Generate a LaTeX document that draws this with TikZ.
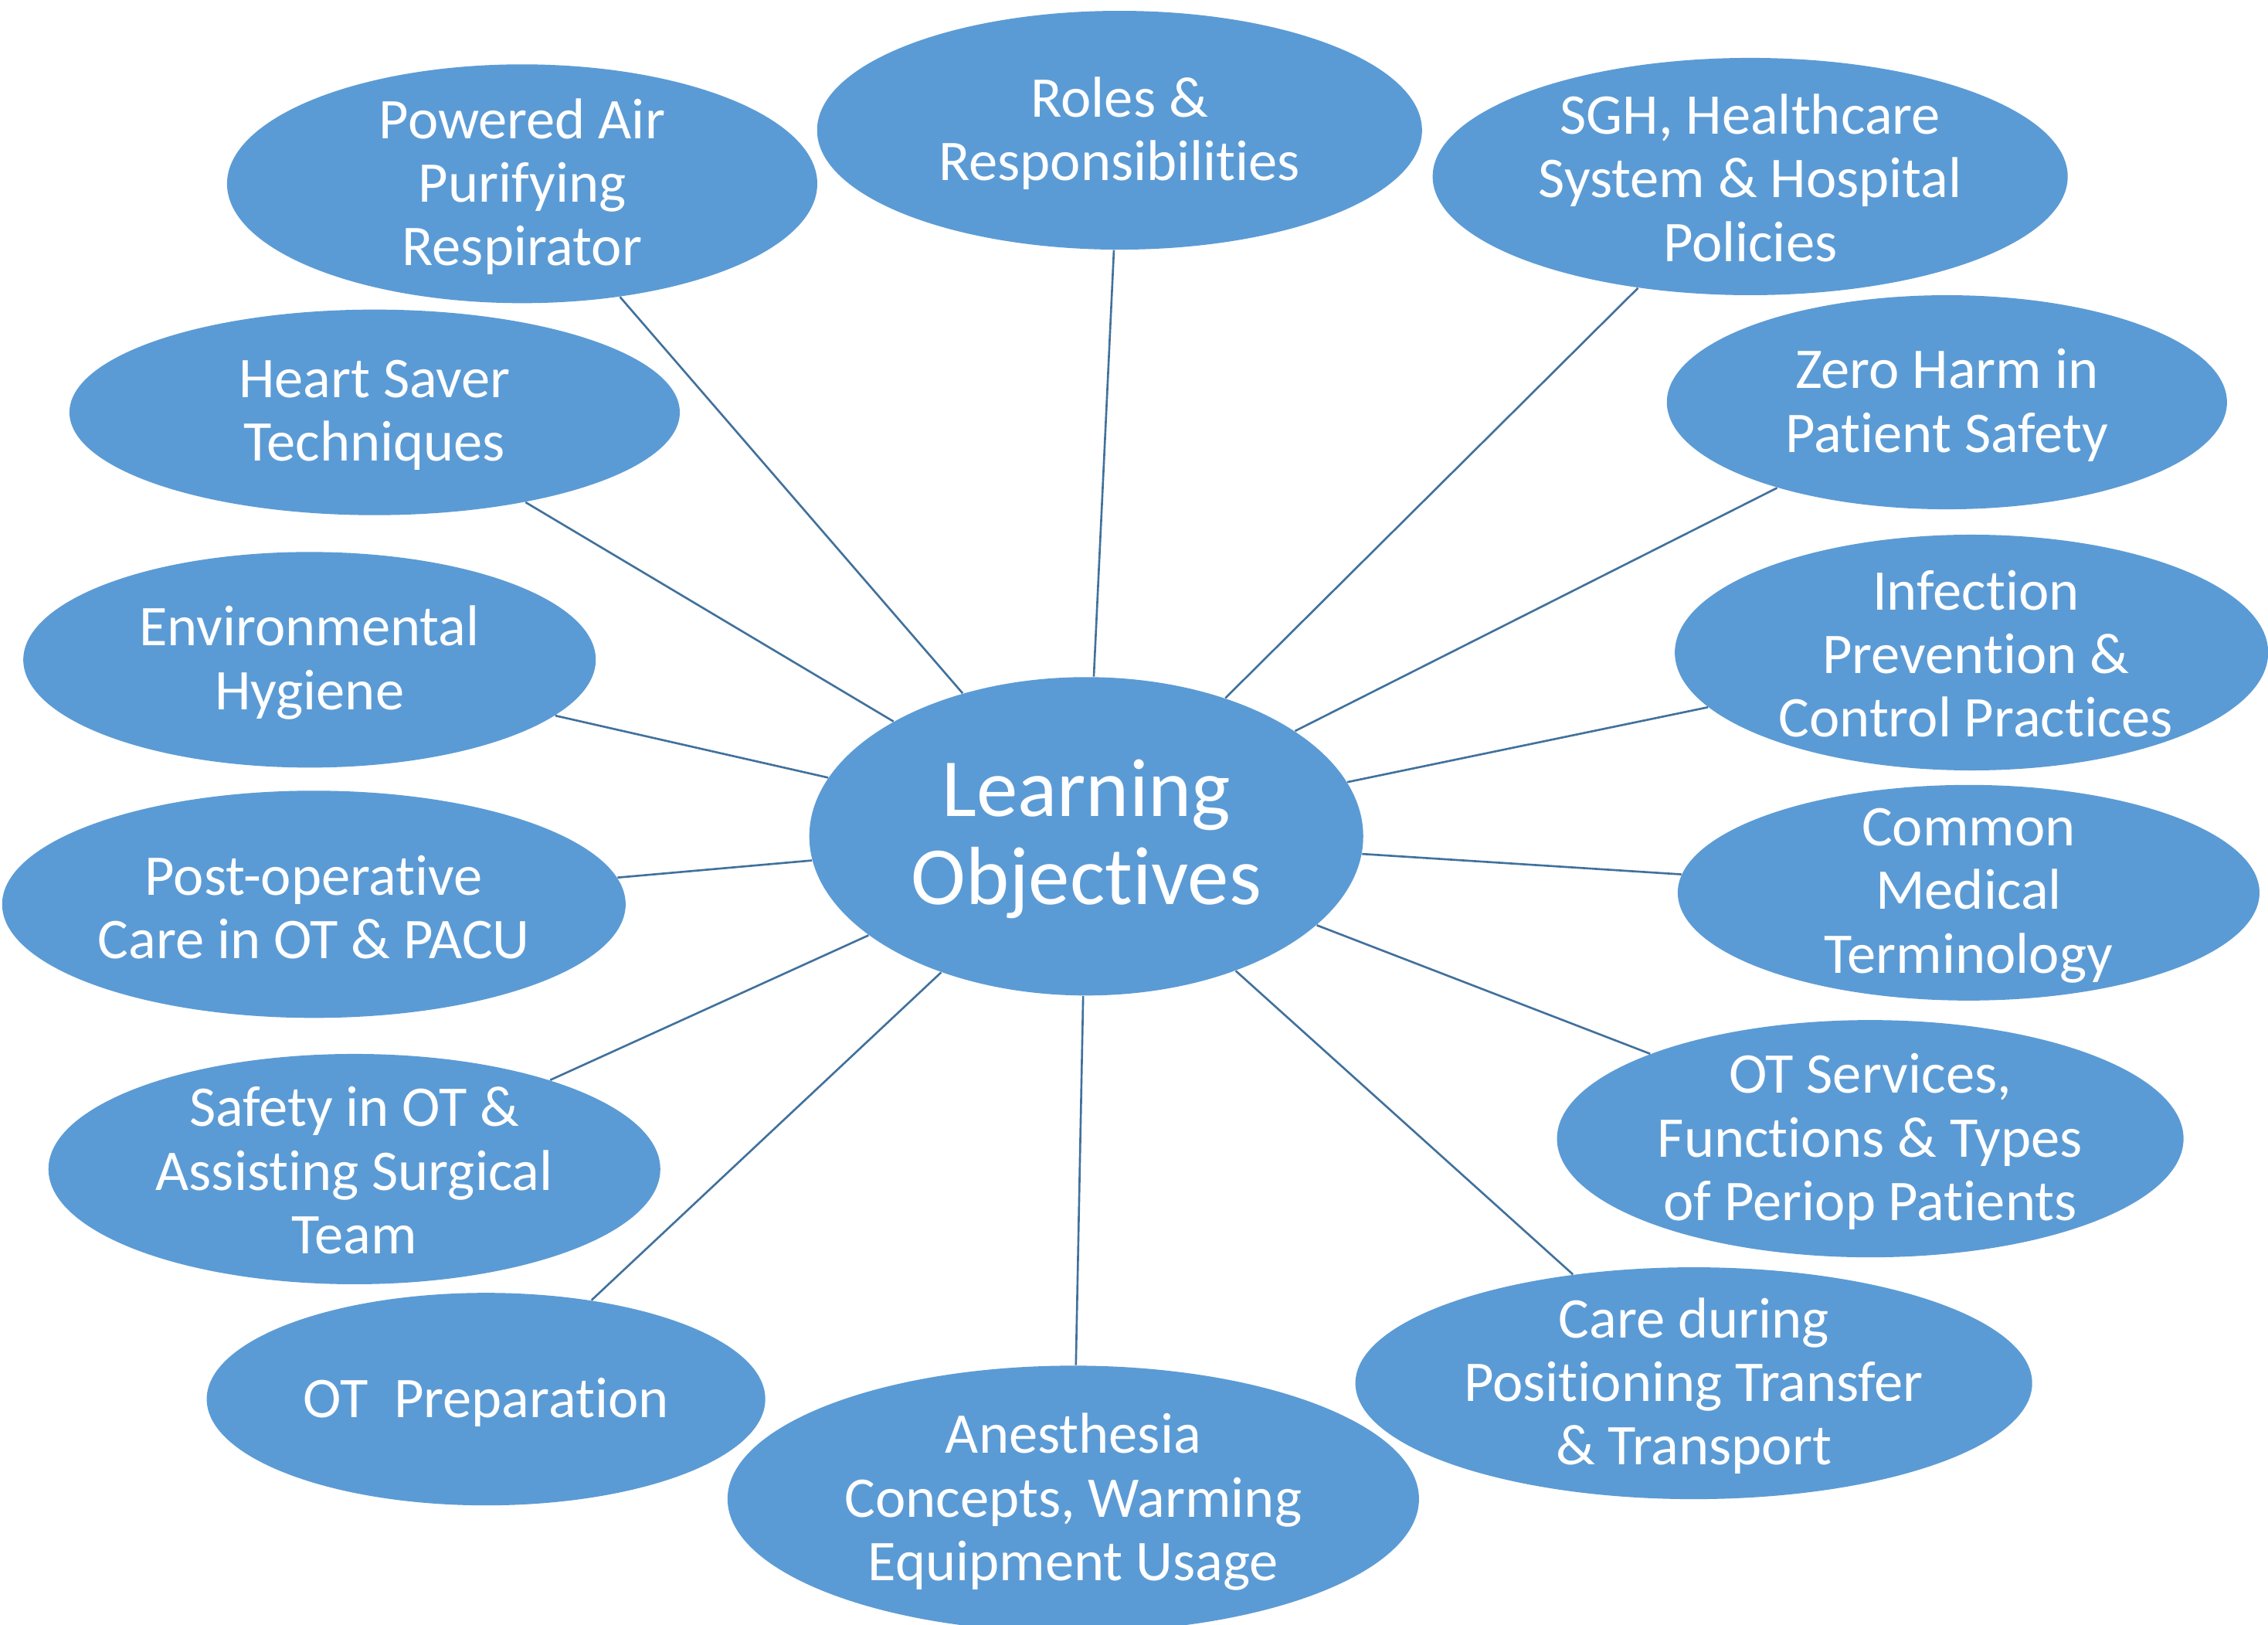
\documentclass[tikz,border=0pt]{standalone}
\usepackage{fontspec}
\setmainfont{Carlito}[Ligatures=NoCommon]
\usetikzlibrary{shapes.geometric}
\definecolor{topicblue}{HTML}{5B9BD5}
\definecolor{linkblue}{HTML}{41719C}
\begin{document}
\begin{tikzpicture}[
    x=0.018724cm, y=-0.018724cm,
    topic/.style={ellipse, fill=topicblue, inner sep=0pt},
    topic_text/.style={text=white, align=center, font=\fontsize{21.2}{23.4}\selectfont},
    hub_text/.style={text=white, align=center, font=\fontsize{30.4}{32.5}\selectfont},
    link/.style={draw=linkblue, line width=0.75pt} % connectors from the hub
]
\useasboundingbox (0,0) rectangle (1568,1123);

\node[topic, minimum width=7.17cm, minimum height=4.12cm] (hub) at (751,578) {};
\node[hub_text] (hub_t) at (751,580) {Learning\\Objectives};

\node[topic, minimum width=7.83cm, minimum height=3.09cm] (roles) at (774,90) {};
\node[topic_text] (roles_t) at (774,92) {Roles \&\\Responsibilities};
\node[topic, minimum width=7.64cm, minimum height=3.09cm] (papr) at (361,127) {};
\node[topic_text] (papr_t) at (361,129) {Powered Air\\Purifying\\Respirator};
\node[topic, minimum width=8.22cm, minimum height=3.07cm] (sgh) at (1210,122) {};
\node[topic_text] (sgh_t) at (1210,123) {SGH, Healthcare\\System \& Hospital\\Policies};
\node[topic, minimum width=7.90cm, minimum height=2.66cm] (heart) at (259,285) {};
\node[topic_text] (heart_t) at (259,287) {Heart Saver\\Techniques};
\node[topic, minimum width=7.25cm, minimum height=2.77cm] (harm) at (1346,278) {};
\node[topic_text] (harm_t) at (1346,280) {Zero Harm in\\Patient Safety};
\node[topic, minimum width=7.41cm, minimum height=2.79cm] (hygiene) at (214,456) {};
\node[topic_text] (hygiene_t) at (214,458) {Environmental\\Hygiene};
\node[topic, minimum width=7.68cm, minimum height=3.05cm] (ipc) at (1363,451) {};
\node[topic_text] (ipc_t) at (1366,452) {Infection\\Prevention \&\\Control Practices};
\node[topic, minimum width=8.07cm, minimum height=2.94cm] (postop) at (217,625) {};
\node[topic_text] (postop_t) at (217,627) {Post-operative\\Care in OT \& PACU};
\node[topic, minimum width=7.53cm, minimum height=2.79cm] (terms) at (1361,617) {};
\node[topic_text] (terms_t) at (1361,619) {Common\\Medical\\Terminology};
\node[topic, minimum width=7.92cm, minimum height=2.98cm] (safety) at (245,808) {};
\node[topic_text] (safety_t) at (245,809) {Safety in OT \&\\Assisting Surgical\\Team};
\node[topic, minimum width=8.11cm, minimum height=3.07cm] (services) at (1293,787) {};
\node[topic_text] (services_t) at (1293,789) {OT Services,\\Functions \& Types\\of Periop Patients};
\node[topic, minimum width=7.23cm, minimum height=2.75cm] (prep) at (336,967) {};
\node[topic_text] (prep_t) at (336,969) {OT\ \ Preparation};
\node[topic, minimum width=8.95cm, minimum height=3.45cm] (anaes) at (742,1036) {};
\node[topic_text] (anaes_t) at (742,1038) {Anesthesia\\Concepts, Warming\\Equipment Usage};
\node[topic, minimum width=8.76cm, minimum height=3.00cm] (care) at (1171,956) {};
\node[topic_text] (care_t) at (1171,958) {Care during\\Positioning Transfer\\\& Transport};

\foreach \t in {roles,papr,sgh,heart,harm,hygiene,ipc,postop,terms,safety,services,prep,anaes,care}
    \draw[link] (hub) -- (\t);
\end{tikzpicture}
\end{document}
